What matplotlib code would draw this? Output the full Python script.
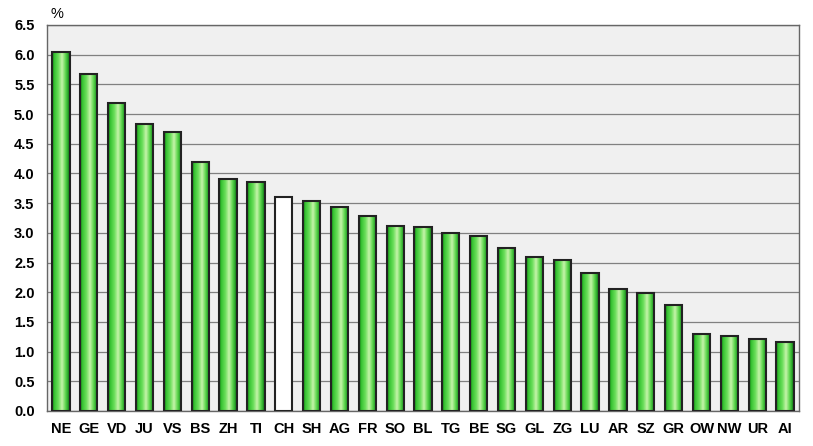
import numpy as np
import matplotlib.pyplot as plt
import matplotlib as mpl
from matplotlib.colors import LinearSegmentedColormap

mpl.rcParams['font.family'] = ['Liberation Sans', 'DejaVu Sans']
mpl.rcParams['font.weight'] = 'bold'

cantons = ['NE', 'GE', 'VD', 'JU', 'VS', 'BS', 'ZH', 'TI', 'CH', 'SH', 'AG', 'FR', 'SO', 'BL',
           'TG', 'BE', 'SG', 'GL', 'ZG', 'LU', 'AR', 'SZ', 'GR', 'OW', 'NW', 'UR', 'AI']
values = [6.05, 5.68, 5.19, 4.84, 4.70, 4.20, 3.91, 3.86, 3.61, 3.54, 3.44, 3.28, 3.11, 3.10,
          3.00, 2.94, 2.75, 2.60, 2.55, 2.33, 2.06, 1.98, 1.78, 1.29, 1.27, 1.22, 1.16]
yticks = np.arange(0, 6.51, 0.5)

# cylinder-like shading across each bar
green = LinearSegmentedColormap.from_list('cyl', [
    (0.00, '#147414'), (0.12, '#36c232'), (0.35, '#6ade5a'),
    (0.56, '#c6f4aa'), (0.76, '#5ed64e'), (0.90, '#2aa62a'), (1.00, '#0e5e0e')])
grad = np.linspace(0, 1, 64).reshape(1, -1)

fig = plt.figure(figsize=(8.13, 4.46), dpi=100)
ax = fig.add_axes([47 / 813, 35 / 446, 752 / 813, 386 / 446])
ax.set_facecolor('#f0f0f0')

x = np.arange(len(cantons))
w = 0.62

for i, v in enumerate(values):
    if cantons[i] == 'CH':
        ax.bar(x[i], v, width=w, color='white', edgecolor='#222222', linewidth=1.5, zorder=3)
        continue
    bar = ax.bar(x[i], v, width=w, color='none', edgecolor='#222222', linewidth=1.5, zorder=4)[0]
    im = ax.imshow(grad, cmap=green, aspect='auto', zorder=3,
                   extent=[x[i] - w / 2, x[i] + w / 2, 0, v])
    im.set_clip_path(bar)

ax.set_xlim(-0.5, len(cantons) - 0.5)
ax.set_ylim(0, 6.5)

ax.set_yticks(yticks)
ax.set_yticklabels([f'{t:.1f}' for t in yticks])
ax.set_xticks(x)
ax.set_xticklabels(cantons)
ax.tick_params(length=0)
ax.tick_params(axis='y', labelsize=10.5, pad=9)
ax.tick_params(axis='x', labelsize=10.5, pad=8)
ax.yaxis.grid(True, color='#808080', linewidth=0.9)
ax.set_axisbelow(True)
for s in ax.spines.values():
    s.set_color('#666666')
    s.set_linewidth(1.0)

fig.text(50 / 813, 1 - 14 / 446, '%', fontsize=10.5, fontweight='normal', ha='left', va='center')

plt.savefig('out.png', dpi=100)
